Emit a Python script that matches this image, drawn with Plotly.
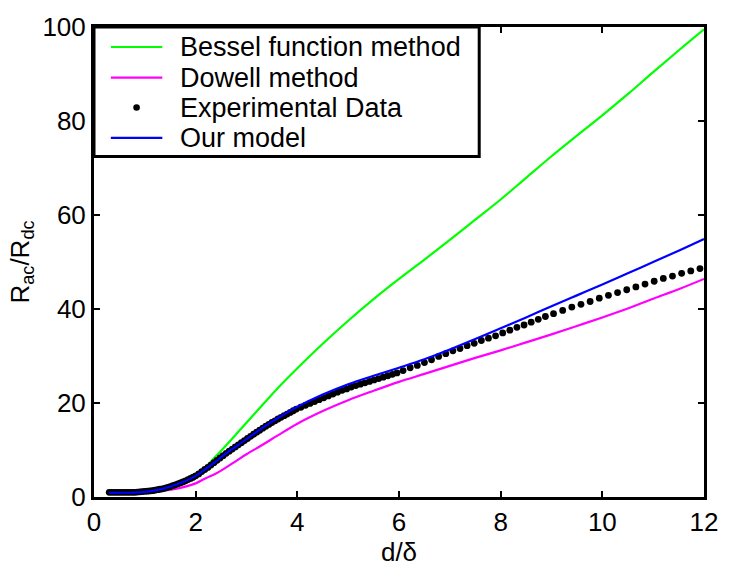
import plotly.graph_objects as go

# ---- data ----
curve_x = [0.3, 0.5, 0.8, 1.0, 1.2, 1.4, 1.6, 1.8, 2.0, 2.2, 2.4, 2.6, 2.8, 3.0, 3.3, 3.6,
           4.0, 4.5, 5.0, 5.5, 6.0, 6.5, 7.0, 7.5, 8.0, 8.5, 9.0, 9.5, 10.0, 10.5, 11.0, 11.5, 12.0]

bessel_y = [1.0, 1.0, 1.0, 1.2, 1.4, 1.9, 2.6, 3.4, 4.6, 6.4, 8.7, 11.0, 13.4, 15.8, 19.4, 23.0,
            27.4, 32.6, 37.5, 42.1, 46.4, 50.5, 54.7, 59.0, 63.3, 67.9, 72.5, 76.9, 81.2, 85.7, 90.4, 95.0, 99.5]

dowell_y = [0.9, 0.9, 0.95, 1.05, 1.2, 1.4, 1.7, 2.2, 2.9, 4.0, 5.0, 6.3, 7.7, 9.1, 11.0, 13.0,
            15.6, 18.3, 20.6, 22.6, 24.5, 26.2, 27.9, 29.6, 31.2, 32.9, 34.6, 36.4, 38.2, 40.1, 42.2, 44.2, 46.4]

model_y = [0.9, 0.9, 0.95, 1.1, 1.4, 1.9, 2.6, 3.4, 4.5, 6.0, 7.6, 9.3, 10.8, 12.3, 14.6, 16.7,
           19.2, 21.8, 24.0, 25.8, 27.5, 29.3, 31.4, 33.6, 35.9, 38.2, 40.6, 42.9, 45.2, 47.6, 50.0, 52.4, 54.9]

exp_x = [0.30, 0.35, 0.40, 0.45, 0.50, 0.55, 0.60, 0.65, 0.70, 0.75, 0.80, 0.85, 0.90, 0.95, 1.00,
         1.05, 1.10, 1.15, 1.20, 1.25, 1.30, 1.35, 1.40, 1.45, 1.50, 1.55, 1.60, 1.65, 1.70, 1.75,
         1.80, 1.85, 1.90, 1.95, 2.00,
         2.06, 2.12, 2.18, 2.24, 2.30, 2.36, 2.42, 2.48, 2.54, 2.60, 2.66, 2.72, 2.78, 2.84, 2.90,
         2.96, 3.02, 3.08, 3.14, 3.20, 3.26, 3.32, 3.38, 3.44, 3.50, 3.56, 3.62, 3.68, 3.74, 3.80,
         3.86, 3.92, 3.98,
         4.07, 4.16, 4.25, 4.34, 4.43, 4.52, 4.61, 4.70, 4.79, 4.88, 4.97, 5.06, 5.15, 5.24, 5.33,
         5.42, 5.51, 5.60, 5.69, 5.78, 5.87, 5.96,
         6.08, 6.22, 6.36, 6.50, 6.64, 6.78, 6.92, 7.06, 7.20, 7.34, 7.48, 7.62, 7.76, 7.90, 8.04,
         8.18, 8.32, 8.46, 8.60, 8.74, 8.88,
         9.04, 9.22, 9.40, 9.58, 9.76, 9.94, 10.12, 10.30, 10.48, 10.66, 10.84, 11.02, 11.20, 11.38,
         11.56, 11.74, 11.92]

exp_y = [1.0, 1.0, 1.0, 1.0, 1.0, 1.0, 1.0, 1.0, 1.0, 1.0, 1.0, 1.05, 1.1, 1.15, 1.2,
         1.25, 1.3, 1.35, 1.45, 1.55, 1.65, 1.75, 1.9, 2.05, 2.2, 2.4, 2.6, 2.8, 3.0, 3.2,
         3.45, 3.7, 3.95, 4.2, 4.5,
         4.9, 5.4, 5.85, 6.3, 6.8, 7.3, 7.8, 8.3, 8.8, 9.3, 9.75, 10.2, 10.65, 11.1, 11.55,
         12.0, 12.45, 12.9, 13.35, 13.8, 14.2, 14.65, 15.05, 15.45, 15.85, 16.2, 16.6, 16.95, 17.3, 17.65,
         18.0, 18.35, 18.7,
         19.1, 19.5, 19.9, 20.3, 20.7, 21.1, 21.5, 21.9, 22.3, 22.7, 23.0, 23.4, 23.7, 24.0, 24.3,
         24.6, 24.9, 25.2, 25.5, 25.8, 26.1, 26.4,
         26.9, 27.5, 28.0, 28.6, 29.2, 29.9, 30.5, 31.1, 31.6, 32.2, 32.7, 33.3, 33.8, 34.3, 34.9,
         35.5, 36.1, 36.6, 37.2, 37.8, 38.4,
         39.0, 39.7, 40.4, 41.0, 41.6, 42.3, 42.9, 43.5, 44.1, 44.7, 45.3, 45.9, 46.5, 47.0,
         47.6, 48.1, 48.6]

legend_names = ["Bessel function method", "Dowell method", "Experimental Data", "Our model"]
x_ticks = [0, 2, 4, 6, 8, 10, 12]
y_ticks = [0, 20, 40, 60, 80, 100]

GREEN, MAGENTA, BLUE, BLACK = "#00ff00", "#ff00ff", "#0000ff", "#000000"
FONT = "Liberation Sans, Arial, sans-serif"
FS_TICK = 26
FS_TITLE = 26
FS_LEG = 27

fig = go.Figure()
fig.add_trace(go.Scatter(x=curve_x, y=bessel_y, mode="lines", line=dict(color=GREEN, width=2.2),
                         name=legend_names[0], line_shape="spline"))
fig.add_trace(go.Scatter(x=curve_x, y=dowell_y, mode="lines", line=dict(color=MAGENTA, width=2.2),
                         name=legend_names[1], line_shape="spline"))
fig.add_trace(go.Scatter(x=exp_x, y=exp_y, mode="markers", marker=dict(color=BLACK, size=6.8),
                         name=legend_names[2]))
fig.add_trace(go.Scatter(x=curve_x, y=model_y, mode="lines", line=dict(color=BLUE, width=2.2),
                         name=legend_names[3], line_shape="spline"))

# ---- hand-built legend box (paper coordinates) ----
lx0, lx1 = 0.0276, 0.112
tx = 0.138
rows = [0.9574, 0.8924, 0.8286, 0.764]
shapes = [dict(type="rect", xref="paper", yref="paper", x0=0, x1=0.6315, y0=0.7243, y1=1,
               line=dict(color=BLACK, width=3), fillcolor="white", layer="above")]
colors = [GREEN, MAGENTA, None, BLUE]
annotations = []
for name, yy, c in zip(legend_names, rows, colors):
    if c is None:
        shapes.append(dict(type="circle", xref="paper", yref="paper", xsizemode="pixel",
                           ysizemode="pixel", xanchor=(lx0 + lx1) / 2, yanchor=yy,
                           x0=-3.3, x1=3.3, y0=-3.3, y1=3.3, fillcolor=BLACK,
                           line=dict(width=0), layer="above"))
    else:
        shapes.append(dict(type="line", xref="paper", yref="paper", x0=lx0, x1=lx1, y0=yy, y1=yy,
                           line=dict(color=c, width=2.2), layer="above"))
    annotations.append(dict(xref="paper", yref="paper", x=tx, y=yy, text=name, showarrow=False,
                            xanchor="left", yanchor="middle",
                            font=dict(family=FONT, size=FS_LEG, color=BLACK)))

axis_common = dict(showgrid=False, zeroline=False, showline=True, linecolor=BLACK, linewidth=3,
                   mirror="ticks", ticks="inside", ticklen=6, tickwidth=2, tickcolor=BLACK,
                   tickfont=dict(family=FONT, size=FS_TICK, color=BLACK))

fig.update_layout(
    width=730, height=571,
    margin=dict(l=94, r=20, t=16, b=69),
    paper_bgcolor="white", plot_bgcolor="white",
    showlegend=False,
    shapes=shapes, annotations=annotations,
    xaxis=dict(range=[0, 12], tickvals=x_ticks, ticktext=[str(v) for v in x_ticks],
               title=dict(text="d/δ", font=dict(family=FONT, size=FS_TITLE, color=BLACK), standoff=4),
               **axis_common),
    yaxis=dict(range=[0, 100], tickvals=y_ticks, ticktext=[str(v) for v in y_ticks],
               title=dict(text="R<sub>ac</sub>/R<sub>dc</sub>", font=dict(family=FONT, size=FS_TITLE, color=BLACK),
                          standoff=6),
               **axis_common),
)

fig.write_html("out.html")
